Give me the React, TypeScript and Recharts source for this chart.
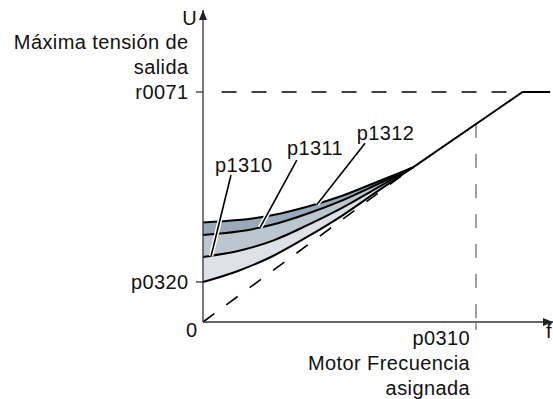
import {
  ComposedChart,
  Area,
  Line,
  XAxis,
  YAxis,
  ReferenceLine,
  ReferenceDot,
} from "recharts";

// f axis: 0..100 is the full arrow length; U axis: r0071 = 100
const freq = [0, 10, 20, 30, 40, 50, 60];
const curveBase = [17.4, 22.2, 28.7, 37.2, 46.5, 57.0, 67.2]; // starts at p0320
const curveP1310 = [28.3, 30.9, 35.4, 42.2, 49.8, 58.5, 67.2];
const curveP1311 = [37.8, 39.3, 42.4, 47.2, 53.0, 60.0, 67.2];
const curveP1312 = [43.3, 44.3, 46.5, 50.2, 55.0, 61.1, 67.2];

const U_P0320 = 17.4;
const U_R0071 = 100;
const F_P0310 = 78;
const U_AT_P0310 = 86.1;
const KNEE = { f: 60, u: 67.2 };
const MAX_V = { f: 91.3, u: 100 };
const F_END = 99.2;
const F_AXIS = 100;
const U_AXIS = 135.65;

const yTickLabels: Record<number, string[]> = {
  [U_P0320]: ["p0320"],
  [U_R0071]: ["Máxima tensión de", "salida", "r0071"],
};
const xTickLabels = ["p0310", "Motor Frecuencia", "asignada"];

const leaders = [
  { name: "p1310", from: { f: 8.0, u: 63.9 }, to: { f: 2.3, u: 28.6 }, text: { f: 3.4, u: 65.2 } },
  { name: "p1311", from: { f: 26.8, u: 70.4 }, to: { f: 16.3, u: 41.0 }, text: { f: 24.0, u: 72.6 } },
  { name: "p1312", from: { f: 46.3, u: 77.7 }, to: { f: 32.5, u: 51.0 }, text: { f: 43.9, u: 79.1 } },
];

const rows = freq.map((f, i) => ({
  f,
  base: curveBase[i],
  p1310: curveP1310[i],
  p1311: curveP1311[i],
  p1312: curveP1312[i],
  lo: [curveBase[i], curveP1310[i]],
  mid: [curveP1310[i], curveP1311[i]],
  hi: [curveP1311[i], curveP1312[i]],
}));

const AXIS_X = 203;
const AXIS_Y = 322;
const FONT = "'Liberation Sans', Arial, sans-serif";
const txt = { fontFamily: FONT, fontSize: 20, letterSpacing: 0.4, fill: "#111" };

function YTick(props: any) {
  const { y, payload } = props;
  if (payload.value === 0) {
    return (
      <text x={197.5} y={y + 15} textAnchor="end" {...txt}>
        0
      </text>
    );
  }
  const lines = yTickLabels[payload.value] || [];
  return (
    <g>
      <line x1={196} x2={AXIS_X} y1={y} y2={y} stroke="#333" strokeWidth={1.3} />
      {lines.map((t, i) => (
        <text key={t} x={188.5} y={y + 7.3 - (lines.length - 1 - i) * 25} textAnchor="end" {...txt}>
          {t}
        </text>
      ))}
    </g>
  );
}

function XTick(props: any) {
  const { x } = props;
  return (
    <g>
      <line x1={x} x2={x} y1={AXIS_Y} y2={AXIS_Y + 8} stroke="#808080" strokeWidth={1.5} />
      {xTickLabels.map((t, i) => (
        <text key={t} x={x - 6} y={345 + i * 25} textAnchor="end" {...txt}>
          {t}
        </text>
      ))}
    </g>
  );
}

const UArrow = (p: any) => (
  <g>
    <path d={`M${p.cx},${p.cy} l-4,10 l8,0 z`} fill="#222" />
    <text x={p.cx - 6} y={p.cy + 15} textAnchor="end" {...txt}>
      U
    </text>
  </g>
);

// the reference crops the "f" at the right edge; keep it just inside
const FArrow = (p: any) => (
  <g>
    <path d={`M${p.cx},${p.cy} l-10,-4 l0,8 z`} fill="#222" />
    <text x={p.cx - 1} y={p.cy + 16} textAnchor="end" {...txt}>
      f
    </text>
  </g>
);

const LeaderText = (name: string) => (p: any) => (
  <text x={p.cx} y={p.cy} {...txt}>
    {name}
  </text>
);

export default function App() {
  return (
    <div style={{ position: "absolute", left: 0, top: 0, background: "#fff" }}>
      <ComposedChart
        width={553}
        height={399}
        data={rows}
        margin={{ top: 10, right: 0, left: 0, bottom: 0 }}
      >
        <XAxis
          type="number"
          dataKey="f"
          domain={[0, F_AXIS]}
          ticks={[F_P0310]}
          interval={0}
          height={77}
          axisLine={{ stroke: "#333", strokeWidth: 1.3 }}
          tickLine={false}
          tick={<XTick />}
        />
        <YAxis
          type="number"
          domain={[0, U_AXIS]}
          allowDataOverflow
          ticks={[0, U_P0320, U_R0071]}
          interval={0}
          width={203}
          axisLine={{ stroke: "#333", strokeWidth: 1.3 }}
          tickLine={false}
          tick={<YTick />}
        />
        <Area type="monotone" dataKey="lo" fill="#dce2e7" fillOpacity={1} stroke="none" isAnimationActive={false} />
        <Area type="monotone" dataKey="mid" fill="#bcc6cf" fillOpacity={1} stroke="none" isAnimationActive={false} />
        <Area type="monotone" dataKey="hi" fill="#9aa9b7" fillOpacity={1} stroke="none" isAnimationActive={false} />
        {["base", "p1310", "p1311", "p1312"].map((k) => (
          <Line
            key={k}
            type="monotone"
            dataKey={k}
            stroke="#000"
            strokeWidth={2}
            dot={false}
            activeDot={false}
            isAnimationActive={false}
          />
        ))}
        <ReferenceLine
          segment={[{ x: 0, y: 0 }, { x: KNEE.f, y: KNEE.u }]}
          stroke="#000"
          strokeWidth={1.6}
          strokeDasharray="14 15"
          ifOverflow="visible"
        />
        <ReferenceLine
          segment={[{ x: 5.3, y: U_R0071 }, { x: MAX_V.f, y: U_R0071 }]}
          stroke="#000"
          strokeWidth={1.5}
          strokeDasharray="15 15"
          ifOverflow="visible"
        />
        <ReferenceLine
          segment={[{ x: F_P0310, y: U_AT_P0310 }, { x: F_P0310, y: 0 }]}
          stroke="#808080"
          strokeWidth={1.5}
          strokeDasharray="14 16"
          ifOverflow="visible"
        />
        <ReferenceLine
          segment={[{ x: KNEE.f, y: KNEE.u }, { x: MAX_V.f, y: MAX_V.u }]}
          stroke="#000"
          strokeWidth={2}
          ifOverflow="visible"
        />
        <ReferenceLine
          segment={[{ x: MAX_V.f, y: MAX_V.u }, { x: F_END, y: MAX_V.u }]}
          stroke="#000"
          strokeWidth={2}
          ifOverflow="visible"
        />
        {leaders.map((l) => (
          <ReferenceLine
            key={l.name + "-halo"}
            segment={[{ x: l.from.f, y: l.from.u }, { x: l.to.f, y: l.to.u }]}
            stroke="#fff"
            strokeWidth={4.5}
            ifOverflow="visible"
          />
        ))}
        {leaders.map((l) => (
          <ReferenceLine
            key={l.name}
            segment={[{ x: l.from.f, y: l.from.u }, { x: l.to.f, y: l.to.u }]}
            stroke="#000"
            strokeWidth={1.6}
            ifOverflow="visible"
          />
        ))}
        {leaders.map((l) => (
          <ReferenceDot
            key={l.name + "-t"}
            x={l.text.f}
            y={l.text.u}
            ifOverflow="visible"
            shape={LeaderText(l.name)}
          />
        ))}
        <ReferenceDot x={0} y={U_AXIS} ifOverflow="visible" shape={UArrow} />
        <ReferenceDot x={F_AXIS} y={0} ifOverflow="visible" shape={FArrow} />
      </ComposedChart>
    </div>
  );
}
